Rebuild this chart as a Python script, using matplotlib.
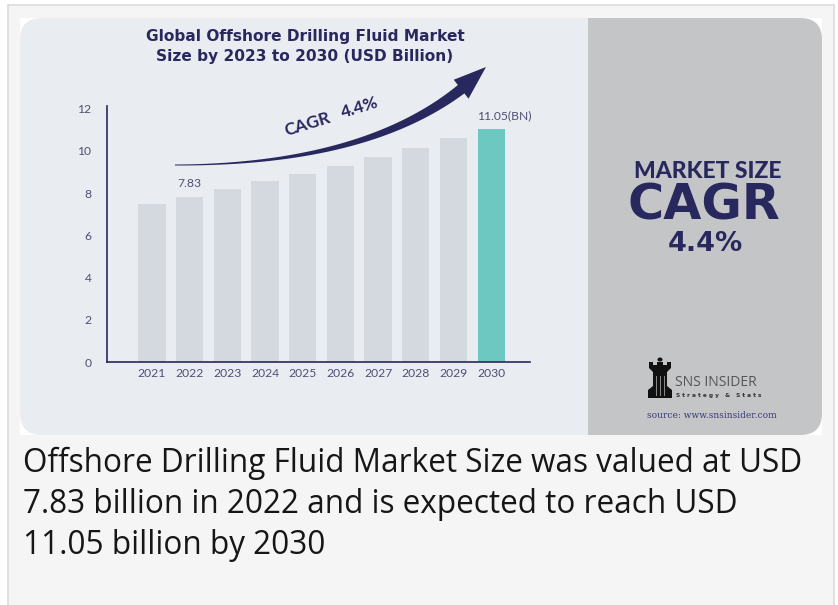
import numpy as np
import matplotlib
matplotlib.use("Agg")
import matplotlib.pyplot as plt
from matplotlib.patches import FancyBboxPatch, Rectangle, Polygon
from matplotlib.transforms import Affine2D

W, H = 838, 605

years = ["2021", "2022", "2023", "2024", "2025", "2026", "2027", "2028", "2029", "2030"]
market_size = [7.48, 7.83, 8.17, 8.55, 8.91, 9.29, 9.71, 10.14, 10.60, 11.05]
y_ticks = [0, 2, 4, 6, 8, 10, 12]

NAVY = "#29285e"
BAR = "#d3d9df"
TEAL = "#6cc8c1"
LIGHT = "#e9ecf1"
GREY = "#c4c5c7"
HEAVY = "DejaVu Sans"

fig = plt.figure(figsize=(W / 100, H / 100), dpi=100)
fig.patch.set_facecolor("white")
# pixel coordinates, origin top-left
px = Affine2D().scale(1 / W, -1 / H).translate(0, 1) + fig.transFigure


def add(p, z=-5):
    p.set_transform(px)
    p.set_zorder(z)
    fig.add_artist(p)
    return p


# outer page box
add(Rectangle((7.5, 4.5), 826, 610, facecolor="#f5f5f5", edgecolor="#dcdcdc", linewidth=1.2))
# infographic card
add(Rectangle((20, 18), 802, 417, facecolor="white", edgecolor="none"))
add(FancyBboxPatch((20, 18), 802, 417, boxstyle="round,pad=0,rounding_size=22",
                   facecolor=LIGHT, edgecolor="none"))
right = add(FancyBboxPatch((540, 18), 282, 417, boxstyle="round,pad=0,rounding_size=22",
                           facecolor=GREY, edgecolor="none"))
clip = Rectangle((588, 0), 300, H, transform=px)
right.set_clip_path(clip)

# bar chart
ax = fig.add_axes([106.7 / W, 1 - 362.3 / H, (530 - 106.7) / W, (362.3 - 106.3) / H])
ax.set_facecolor("none")
x = np.arange(len(years))
colors = [BAR] * (len(years) - 1) + [TEAL]
ax.bar(x, market_size, width=0.725, color=colors, zorder=2)
ax.set_xlim(-1.2, 10.03)
ax.set_ylim(0, 12.1)
ax.set_yticks(y_ticks)
ax.set_xticks(x)
ax.set_xticklabels(years)
for s in ("top", "right"):
    ax.spines[s].set_visible(False)
for s in ("left", "bottom"):
    ax.spines[s].set_color(NAVY)
    ax.spines[s].set_linewidth(1.2)
ax.tick_params(axis="both", length=0, colors="#4f4f75", labelsize=8.7)
ax.tick_params(axis="y", pad=11)
ax.tick_params(axis="x", pad=4)
for lab in ax.get_xticklabels() + ax.get_yticklabels():
    lab.set_fontfamily("Lato")

ax.text(x[1], market_size[1] + 0.35, f"{market_size[1]:.2f}", ha="center", va="bottom",
        fontsize=8.7, color="#4f4f75", family="Lato")
ax.text(x[-1] + 0.35, market_size[-1] + 0.35, f"{market_size[-1]:.2f}(BN)", ha="center",
        va="bottom", fontsize=8.7, color="#4f4f75", family="Lato")

# curved tapered CAGR arrow (pixel space)
P0 = np.array([175.0, 165.0])
C = np.array([390.0, 165.0])
P2 = np.array([486.0, 67.0])
t = np.linspace(0, 1, 200)[:, None]
pts = (1 - t) ** 2 * P0 + 2 * (1 - t) * t * C + t ** 2 * P2
d = np.gradient(pts, axis=0)
n = np.column_stack([-d[:, 1], d[:, 0]])
n /= np.linalg.norm(n, axis=1)[:, None]
seg = np.linalg.norm(np.diff(pts, axis=0), axis=1)
arc = np.concatenate([[0], np.cumsum(seg)])
head_len = 34
ib = np.searchsorted(arc, arc[-1] - head_len)
tt = arc[: ib + 1] / arc[ib]
hw = 0.5 + 4.8 * tt ** 1.5
upper = pts[: ib + 1] + n[: ib + 1] * hw[:, None]
lower = pts[: ib + 1] - n[: ib + 1] * hw[:, None]
base = pts[ib]
nb = n[ib]
head = [base + nb * 12, P2, base - nb * 12]
outline = np.vstack([upper, head, lower[::-1]])
add(Polygon(outline, closed=True, facecolor=NAVY, edgecolor="none"), z=3)

fig.text(308 / W, 1 - 124 / H, "CAGR", rotation=17, ha="center", va="center",
         fontsize=12.5, fontweight="bold", color=NAVY, family="Lato")
fig.text(360 / W, 1 - 108 / H, "4.4%", rotation=17, ha="center", va="center",
         fontsize=12.5, fontweight="bold", color=NAVY, family="Lato")

# title
fig.text(305 / W, 1 - 37 / H, "Global Offshore Drilling Fluid Market", ha="center", va="center",
         fontsize=11.1, fontweight="bold", color=NAVY, family=HEAVY)
fig.text(305 / W, 1 - 57 / H, "Size by 2023 to 2030 (USD Billion)", ha="center", va="center",
         fontsize=11.1, fontweight="bold", color=NAVY, family=HEAVY)

# right panel
fig.text(708 / W, 1 - 171 / H, "MARKET SIZE", ha="center", va="center",
         fontsize=16.5, fontweight="black", color=NAVY, family="Lato")
fig.text(704 / W, 1 - 206 / H, "CAGR", ha="center", va="center",
         fontsize=35.5, fontweight="bold", color=NAVY, family=HEAVY)
fig.text(705 / W, 1 - 244 / H, "4.4%", ha="center", va="center",
         fontsize=19.5, fontweight="bold", color=NAVY, family=HEAVY)

# logo: rook silhouette
rook = [(649, 368), (649, 362), (653, 362), (653, 365), (657, 365), (657, 362), (663, 362),
        (663, 365), (667, 365), (667, 362), (671, 362), (671, 368), (667, 372), (667, 386),
        (672, 390), (672, 398), (648, 398), (648, 390), (653, 386), (653, 372)]
add(Polygon(rook, closed=True, facecolor="#111111", edgecolor="none"), z=3)
fig.add_artist(plt.Circle((660 / W, 1 - 359.5 / H), 1.8 / W, transform=fig.transFigure,
                          color="#111111"))
for xx in (656, 660, 664):
    add(Rectangle((xx, 376), 1.4, 20, facecolor="#888888", edgecolor="none"), z=4)
fig.text(675 / W, 1 - 382 / H, "SNS INSIDER", ha="left", va="center", fontsize=10,
         color="#555555", family="Open Sans")
fig.text(676 / W, 1 - 395.5 / H, "S t r a t e g y   &   S t a t s", ha="left", va="center",
         fontsize=4.2, fontweight="bold", color="#333333", family="DejaVu Sans")
fig.text(647 / W, 1 - 416 / H, "source: www.snsinsider.com", ha="left", va="center",
         fontsize=6.5, color="#3a3a78", family="DejaVu Serif")

# caption
caption = ["Offshore Drilling Fluid Market Size was valued at USD",
           "7.83 billion in 2022 and is expected to reach USD",
           "11.05 billion by 2030"]
for i, line in enumerate(caption):
    fig.text(22.5 / W, 1 - (463 + 41.5 * i) / H, line, ha="left", va="center",
             fontsize=22.7, color="#161616", family="Open Sans")

fig.savefig("out.png", dpi=100)
